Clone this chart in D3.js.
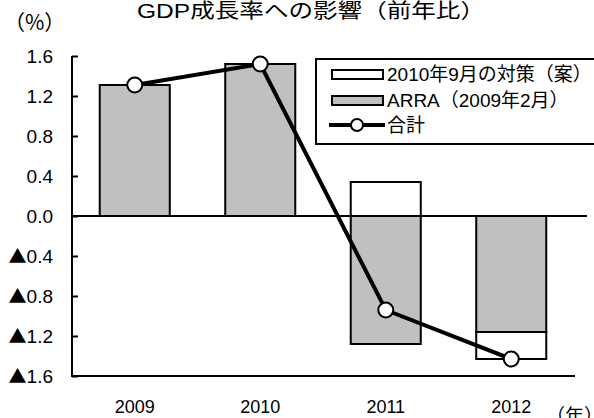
<!DOCTYPE html>
<html>
<head>
<meta charset="utf-8">
<script src="https://cdn.jsdelivr.net/npm/d3@7"></script>
<style>
  html, body { margin: 0; padding: 0; background: #fff; }
  svg { display: block; font-family: "Liberation Sans", "Noto Sans CJK JP", sans-serif; }
</style>
</head>
<body>
<div id="chart"></div>
<script>
// GDP impact chart - stacked columns (ARRA + Sept 2010 plan) with total line

const years = ["2009", "2010", "2011", "2012"];
const arra = [1.31, 1.52, -1.28, -1.16];
const plan = [0, 0, 0.34, -0.27];
const total = [1.31, 1.52, -0.94, -1.43];
const yTicks = [1.6, 1.2, 0.8, 0.4, 0.0, -0.4, -0.8, -1.2, -1.6];

const legendLabels = ["2010年9月の対策（案）", "ARRA（2009年2月）", "合計"];

const width = 594, height = 418;
const margin = { top: 56, right: 20, bottom: 42, left: 72 };
const cjk = "'Noto Sans CJK JP', sans-serif";

const svg = d3.select("#chart").append("svg")
  .attr("width", width)
  .attr("height", height);

const x = d3.scaleBand()
  .domain(years)
  .range([margin.left, 574])
  .paddingInner(0.442)
  .paddingOuter(0.221);

const y = d3.scaleLinear()
  .domain([-1.6, 1.6])
  .range([376, 56]);

// stacked data, Excel style: positives and negatives stack separately
const rows = years.map((yr, i) => ({ year: yr, arra: arra[i], plan: plan[i] }));
const series = d3.stack()
  .keys(["arra", "plan"])
  .offset(d3.stackOffsetDiverging)(rows);

const fills = { arra: "#c0c0c0", plan: "#ffffff" };

// title
svg.append("text")
  .attr("x", 137)
  .attr("y", 18)
  .attr("font-size", "20px")
  .attr("textLength", 348)
  .attr("lengthAdjust", "spacingAndGlyphs")
  .text("GDP成長率への影響（前年比）");

svg.append("text")
  .attr("x", 4)
  .attr("y", 30)
  .attr("font-size", "21px")
  .attr("font-family", cjk)
  .text("（%）");

svg.append("text")
  .attr("x", 546)
  .attr("y", 423)
  .attr("font-size", "19px")
  .attr("font-family", cjk)
  .text("（年）");

// y axis
const yAxis = d3.axisLeft(y)
  .tickValues(yTicks)
  .tickSize(-6)
  .tickPadding(19);

const gy = svg.append("g")
  .attr("transform", `translate(${margin.left},0)`)
  .call(yAxis);
gy.select(".domain").attr("stroke", "#000").attr("stroke-width", 2)
  .attr("d", `M0,${y(1.6)}V${y(-1.6)}`);
gy.selectAll(".tick line").attr("stroke", "#000").attr("stroke-width", 2);
gy.selectAll(".tick text")
  .attr("font-size", "19px")
  .attr("fill", "#000")
  .attr("font-family", "'Liberation Sans', sans-serif")
  .text(null)
  .each(function(d) {
    const t = d3.select(this);
    if (d < 0) t.append("tspan").attr("font-family", cjk).attr("font-size", "18px").text("▲");
    t.append("tspan").text(d3.format(".1f")(Math.abs(d)));
  });

// bottom line and x labels
svg.append("line")
  .attr("x1", margin.left - 1).attr("x2", 575)
  .attr("y1", y(-1.6)).attr("y2", y(-1.6))
  .attr("stroke", "#000").attr("stroke-width", 2);

svg.append("g")
  .selectAll("text")
  .data(years)
  .join("text")
  .attr("x", d => x(d) + x.bandwidth() / 2)
  .attr("y", 413)
  .attr("text-anchor", "middle")
  .attr("font-size", "18px")
  .text(d => d);

// bars
svg.append("g")
  .selectAll("g")
  .data(series)
  .join("g")
  .attr("fill", d => fills[d.key])
  .selectAll("rect")
  .data(d => d.filter(s => s[1] !== s[0]))
  .join("rect")
  .attr("x", d => x(d.data.year))
  .attr("width", x.bandwidth())
  .attr("y", d => y(Math.max(d[0], d[1])))
  .attr("height", d => Math.abs(y(d[0]) - y(d[1])))
  .attr("stroke", "#000")
  .attr("stroke-width", 2);

// zero line
svg.append("line")
  .attr("x1", margin.left).attr("x2", 587)
  .attr("y1", y(0)).attr("y2", y(0))
  .attr("stroke", "#000").attr("stroke-width", 2);

// total line
const line = d3.line()
  .x((d, i) => x(years[i]) + x.bandwidth() / 2)
  .y(d => y(d));

svg.append("path")
  .datum(total)
  .attr("d", line)
  .attr("fill", "none")
  .attr("stroke", "#000")
  .attr("stroke-width", 4);

svg.append("g")
  .selectAll("circle")
  .data(total)
  .join("circle")
  .attr("cx", (d, i) => x(years[i]) + x.bandwidth() / 2)
  .attr("cy", d => y(d))
  .attr("r", 7.5)
  .attr("fill", "#fff")
  .attr("stroke", "#000")
  .attr("stroke-width", 2);

// legend
const legend = svg.append("g");
legend.append("rect")
  .attr("x", 316).attr("y", 59)
  .attr("width", 300).attr("height", 85)
  .attr("fill", "#fff")
  .attr("stroke", "#000")
  .attr("stroke-width", 2);

const rowY = [74, 100, 125];

legend.append("rect")
  .attr("x", 332).attr("y", rowY[0] - 4)
  .attr("width", 51).attr("height", 9)
  .attr("fill", fills.plan).attr("stroke", "#000").attr("stroke-width", 2);

legend.append("rect")
  .attr("x", 332).attr("y", rowY[1] - 4)
  .attr("width", 51).attr("height", 9)
  .attr("fill", fills.arra).attr("stroke", "#000").attr("stroke-width", 2);

legend.append("line")
  .attr("x1", 329).attr("x2", 385)
  .attr("y1", rowY[2]).attr("y2", rowY[2])
  .attr("stroke", "#000").attr("stroke-width", 4);

legend.append("circle")
  .attr("cx", 357).attr("cy", rowY[2]).attr("r", 6)
  .attr("fill", "#fff").attr("stroke", "#000").attr("stroke-width", 2);

legend.selectAll("text.lbl")
  .data(legendLabels)
  .join("text")
  .attr("class", "lbl")
  .attr("x", 387)
  .attr("y", (d, i) => rowY[i])
  .attr("dy", "0.36em")
  .attr("font-size", "19px")
  .text(d => d);
</script>
</body>
</html>
